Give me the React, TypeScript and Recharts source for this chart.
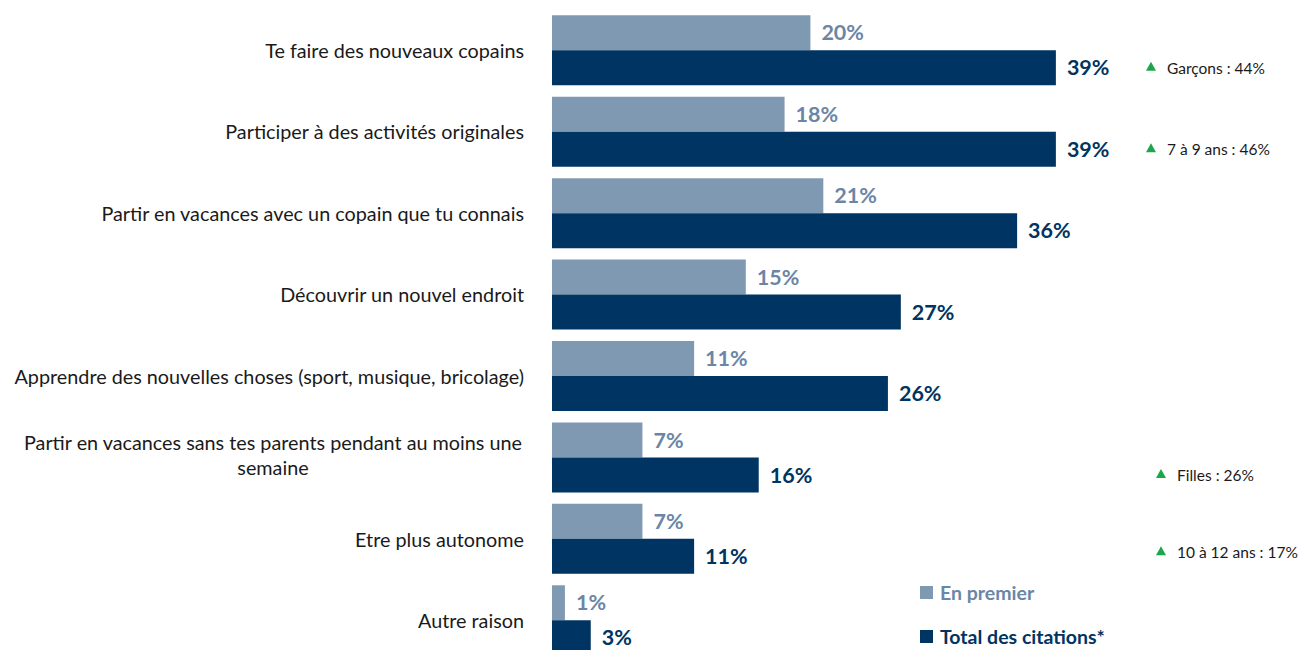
import React from "react";
import { BarChart, Bar, XAxis, YAxis, LabelList } from "recharts";

// Raisons de partir en colonie — pourcentages
const categories = [
  "Te faire des nouveaux copains",
  "Participer à des activités originales",
  "Partir en vacances avec un copain que tu connais",
  "Découvrir un nouvel endroit",
  "Apprendre des nouvelles choses (sport, musique, bricolage)",
  "Partir en vacances sans tes parents pendant au moins une\nsemaine",
  "Etre plus autonome",
  "Autre raison",
];
const enPremier = [20, 18, 21, 15, 11, 7, 7, 1];
const totalCitations = [39, 39, 36, 27, 26, 16, 11, 3];
const notes = [
  "Garçons : 44%",
  "7 à 9 ans : 46%",
  "",
  "",
  "",
  "Filles : 26%",
  "10 à 12 ans : 17%",
  "",
];
const seriesNames = ["En premier", "Total des citations*"];

const data = categories.map((name, i) => ({
  name,
  premier: enPremier[i],
  total: totalCitations[i],
  note: notes[i],
}));

const LIGHT = "#8099b3";
const LIGHT_TEXT = "#6a86a6";
const DARK = "#003462";
const GREEN = "#1aa64a";
const FONT = "Lato, 'Open Sans', sans-serif";

// horizontal nudges for the side notes
const NOTE_SHIFT: Record<number, { dx: number; dy: number }> = {
  5: { dx: 10, dy: 0 },
  6: { dx: 10, dy: -4 },
};

const CategoryTick = (props: any) => {
  const { x, y, payload } = props;
  const lines: string[] = String(payload.value).split("\n");
  if (lines.length === 1) {
    return (
      <text x={x - 20} y={y} textAnchor="end" dominantBaseline="central" fontSize={19.8} fill="#1a1a1a" fontFamily={FONT}>
        {lines[0]}
      </text>
    );
  }
  const lh = 25;
  const start = y - ((lines.length - 1) * lh) / 2 - 3;
  const cx = x - 271;
  return (
    <text x={cx} textAnchor="middle" fontSize={19.8} fill="#1a1a1a" fontFamily={FONT}>
      {lines.map((l, i) => (
        <tspan key={i} x={cx} y={start + i * lh} dominantBaseline="central">
          {l}
        </tspan>
      ))}
    </text>
  );
};

const NoteLabel = (props: any) => {
  const { y, height, index, value } = props;
  if (!value) return null;
  const shift = NOTE_SHIFT[index] || { dx: 0, dy: 0 };
  const cx = 1151 + shift.dx;
  const cy = y + height / 2 + shift.dy;
  return (
    <g>
      <polygon points={`${cx - 5},${cy + 3} ${cx + 5},${cy + 3} ${cx},${cy - 6}`} fill={GREEN} />
      <text x={cx + 16} y={cy} dominantBaseline="central" fontSize={15.5} fill="#1a1a1a" fontFamily={FONT}>
        {value}
      </text>
    </g>
  );
};

const LegendBox = () => (
  <div style={{ position: "absolute", left: 920, top: 580, fontFamily: FONT, fontWeight: 700, fontSize: 19.5 }}>
    <div style={{ display: "flex", alignItems: "center", color: LIGHT_TEXT, height: 24 }}>
      <span style={{ width: 13, height: 13, background: LIGHT, display: "inline-block", marginRight: 7 }} />
      {seriesNames[0]}
    </div>
    <div style={{ display: "flex", alignItems: "center", color: DARK, height: 24, marginTop: 20 }}>
      <span style={{ width: 13, height: 13, background: DARK, display: "inline-block", marginRight: 7 }} />
      {seriesNames[1]}
    </div>
  </div>
);

export default function App() {
  return (
    <div style={{ position: "absolute", left: 0, top: 0, width: 1303, height: 650, overflow: "hidden", background: "#fff" }}>
      <BarChart
        width={1303}
        height={665}
        data={data}
        layout="vertical"
        margin={{ top: 9.3, right: 105, bottom: 4.3, left: 0 }}
        barGap={0}
        barCategoryGap={11}
      >
        <XAxis type="number" domain={[0, 50]} hide />
        <YAxis
          type="category"
          dataKey="name"
          width={552}
          axisLine={false}
          tickLine={false}
          tick={<CategoryTick />}
          interval={0}
        />
        <Bar dataKey="premier" name={seriesNames[0]} fill={LIGHT} barSize={35} isAnimationActive={false}>
          <LabelList
            dataKey="premier"
            position="right"
            offset={11}
            formatter={(v: any) => `${v}%`}
            style={{ fontFamily: FONT, fontWeight: 700, fontSize: 21.5, fill: LIGHT_TEXT }}
          />
        </Bar>
        <Bar dataKey="total" name={seriesNames[1]} fill={DARK} barSize={35} isAnimationActive={false}>
          <LabelList
            dataKey="total"
            position="right"
            offset={11}
            formatter={(v: any) => `${v}%`}
            style={{ fontFamily: FONT, fontWeight: 700, fontSize: 21.5, fill: DARK }}
          />
          <LabelList dataKey="note" content={<NoteLabel />} />
        </Bar>
      </BarChart>
      <LegendBox />
    </div>
  );
}
